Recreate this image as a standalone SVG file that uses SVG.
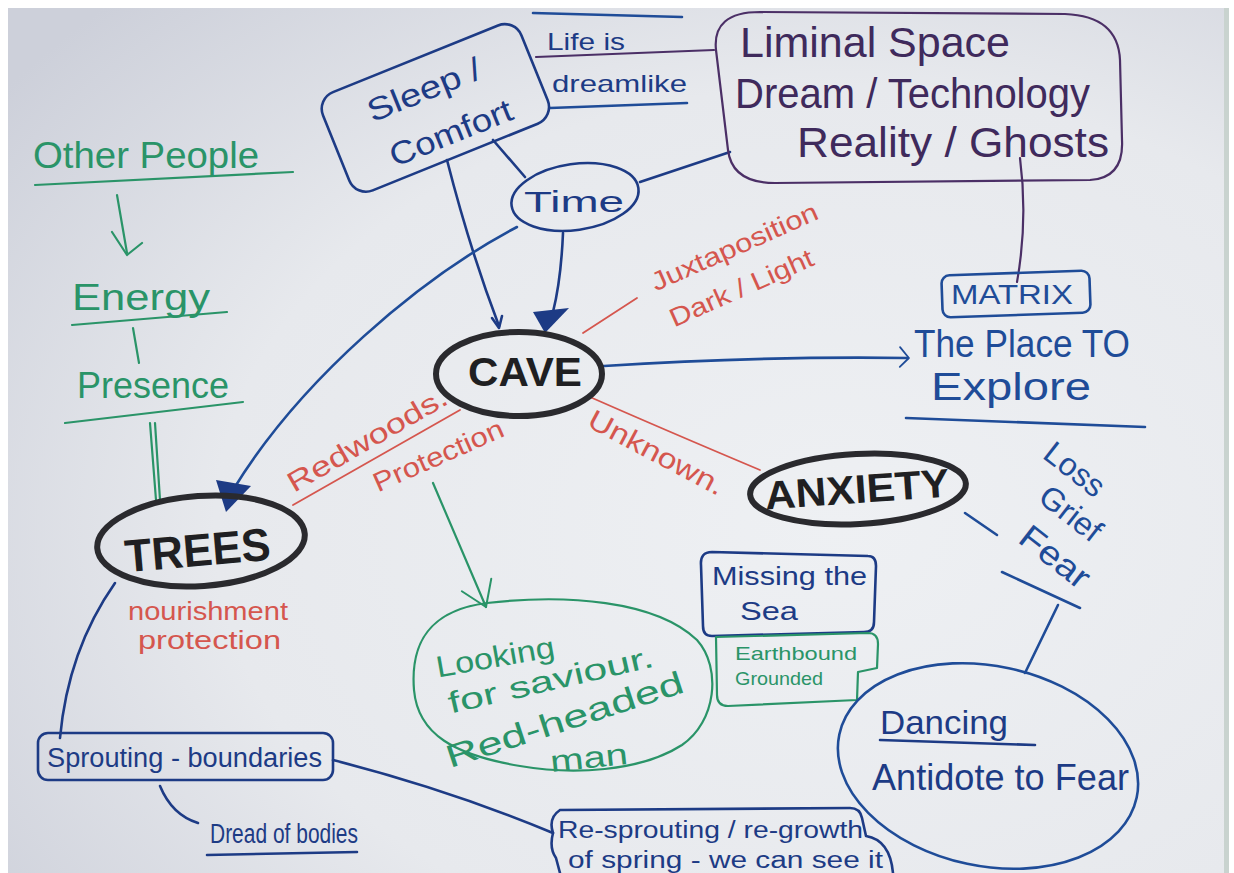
<svg xmlns="http://www.w3.org/2000/svg" width="1234" height="873" viewBox="0 0 1234 873">
  <defs>
    <radialGradient id="paper" cx="0.68" cy="0.6" r="0.85">
      <stop offset="0" stop-color="#eef0f3"/>
      <stop offset="0.6" stop-color="#e7e9ed"/>
      <stop offset="1" stop-color="#cdd0da"/>
    </radialGradient>
    <marker id="chev-blue" viewBox="0 0 20 20" refX="18" refY="10" markerWidth="9" markerHeight="9" markerUnits="userSpaceOnUse" orient="auto" overflow="visible">
      <path d="M0,-14 L20,10 L0,30" fill="none" stroke="#1f4c98" stroke-width="4" stroke-linecap="round" stroke-linejoin="round"/>
    </marker>
    <marker id="chev-green" viewBox="0 0 20 20" refX="20" refY="10" markerWidth="20" markerHeight="20" markerUnits="userSpaceOnUse" orient="auto" overflow="visible">
      <path d="M-4,-6 L20,10 L-4,26" fill="none" stroke="#2a9468" stroke-width="2" stroke-linecap="round" stroke-linejoin="round"/>
    </marker>
    <style>
      .ink { fill: none; stroke-linecap: round; stroke-linejoin: round; }
      .blue { stroke: #1f4c98; stroke-width: 2.6; }
      .navy { stroke: #1d3b85; stroke-width: 2.6; }
      .purple { stroke: #4b2f66; stroke-width: 2.2; }
      .red { stroke: #d5564e; stroke-width: 1.8; }
      .green { stroke: #2a9468; stroke-width: 2.2; }
      .marker { stroke: #2a2a2e; stroke-width: 6; }
      text { font-family: "Liberation Sans", "DejaVu Sans", sans-serif; }
      .t-blue { fill: #1f4c98; }
      .t-navy { fill: #1d3b85; }
      .t-purple { fill: #3f2a5c; }
      .t-red { fill: #d5564e; }
      .t-green { fill: #2a9468; }
      .t-black { fill: #1f1f22; font-weight: bold; }
    </style>
  </defs>

  <!-- sheet of paper on a white surround -->
  <rect x="0" y="0" width="1234" height="873" fill="#ffffff"/>
  <rect x="8" y="8" width="1218" height="865" fill="url(#paper)"/>
  <rect x="1224" y="8" width="5" height="865" fill="#c9d3cf"/>

  <!-- connectors -->
  <g id="connectors">
    <!-- Sleep / Comfort down to CAVE -->
    <path class="ink navy" d="M447,160 Q470,250 499,326"/>
    <path class="ink navy" d="M492,318 L499,328 L502,316"/>
    <!-- Sleep / Comfort to Time -->
    <path class="ink navy" d="M493,140 L525,177"/>
    <!-- Time down to CAVE -->
    <path class="ink navy" d="M563,233 Q561,280 553,312"/>
    <polygon points="533,312 569,308 545,333" fill="#1d3b85"/>
    <!-- Time to Liminal Space -->
    <path class="ink navy" d="M640,182 L730,152"/>
    <!-- Time to TREES -->
    <path class="ink blue" d="M517,227 C420,278 300,380 233,490"/>
    <polygon points="216,480 251,486 226,512" fill="#1d3b85"/>
    <!-- Sleep / Comfort to Liminal Space, with the dreamlike rules -->
    <path class="ink purple" d="M536,57 L714,50"/>
    <path class="ink blue" d="M533,13 L682,17"/>
    <path class="ink blue" d="M550,108 L687,103"/>
    <!-- Ghosts down to MATRIX -->
    <path class="ink purple" d="M1020,158 Q1028,220 1017,282"/>
    <!-- CAVE to The Place TO Explore -->
    <path class="ink blue" d="M604,366 Q760,356 908,358" marker-end="url(#chev-blue)"/>
    <!-- CAVE to Juxtaposition -->
    <path class="ink red" d="M583,333 L637,298"/>
    <!-- CAVE to TREES (Redwoods) -->
    <path class="ink red" d="M460,410 L293,505"/>
    <!-- CAVE to ANXIETY (Unknown) -->
    <path class="ink red" d="M590,397 Q665,430 760,470"/>
    <!-- Protection to Looking for saviour -->
    <path class="ink green" d="M433,483 L486,607" marker-end="url(#chev-green)"/>
    <!-- Other People, Energy, Presence chain -->
    <path class="ink green" d="M117,195 L127,253"/>
    <path class="ink green" d="M112,232 L127,255 L142,243"/>
    <path class="ink green" d="M133,328 L139,363" stroke-width="3"/>
    <path class="ink green" d="M150,423 L156,500"/>
    <path class="ink green" d="M155,423 L160,500"/>
    <!-- TREES to Sprouting -->
    <path class="ink navy" d="M115,583 Q68,650 60,738"/>
    <!-- Sprouting to Dread of bodies -->
    <path class="ink navy" d="M160,786 Q172,815 198,823"/>
    <!-- Sprouting to Re-sprouting -->
    <path class="ink navy" d="M333,760 Q450,790 553,833"/>
    <!-- ANXIETY to Fear, Fear to Dancing -->
    <path class="ink blue" d="M965,513 L997,535"/>
    <path class="ink blue" d="M1002,572 L1080,608"/>
    <path class="ink blue" d="M1058,605 L1025,673"/>
  </g>

  <!-- Sleep / Comfort -->
  <g id="sleep">
    <rect class="ink navy" x="-107" y="-52" width="214" height="106" rx="18" transform="translate(435,107) rotate(-22)"/>
    <text class="t-navy" font-size="32" transform="translate(428,100) rotate(-22)" text-anchor="middle" textLength="120" lengthAdjust="spacingAndGlyphs">Sleep /</text>
    <text class="t-navy" font-size="32" transform="translate(455,143) rotate(-22)" text-anchor="middle" textLength="130" lengthAdjust="spacingAndGlyphs">Comfort</text>
  </g>

  <!-- Life is dreamlike -->
  <g id="dreamlike">
    <text class="t-navy" x="547" y="50" font-size="24" textLength="78" lengthAdjust="spacingAndGlyphs">Life is</text>
    <text class="t-navy" x="552" y="92" font-size="24" textLength="135" lengthAdjust="spacingAndGlyphs">dreamlike</text>
  </g>

  <!-- Liminal Space -->
  <g id="liminal">
    <path class="ink purple" d="M760,12 L1065,14 Q1118,16 1120,60 L1122,140 Q1124,178 1090,180 L775,183 Q732,183 728,150 L716,50 Q712,12 760,12 Z"/>
    <text class="t-purple" x="740" y="57" font-size="42" textLength="270" lengthAdjust="spacingAndGlyphs">Liminal Space</text>
    <text class="t-purple" x="735" y="108" font-size="42" textLength="355" lengthAdjust="spacingAndGlyphs">Dream / Technology</text>
    <text class="t-purple" x="797" y="157" font-size="42" textLength="312" lengthAdjust="spacingAndGlyphs">Reality / Ghosts</text>
  </g>

  <!-- Time -->
  <g id="time">
    <ellipse class="ink navy" cx="575" cy="197" rx="64" ry="33" transform="rotate(-8,575,197)"/>
    <text class="t-navy" x="524" y="212" font-size="30" textLength="100" lengthAdjust="spacingAndGlyphs">Time</text>
  </g>

  <!-- Other People / Energy / Presence -->
  <g id="people">
    <text class="t-green" x="33" y="168" font-size="36" textLength="226" lengthAdjust="spacingAndGlyphs">Other People</text>
    <path class="ink green" d="M35,185 L293,172"/>
  </g>
  <g id="energy">
    <text class="t-green" x="72" y="310" font-size="36" textLength="138" lengthAdjust="spacingAndGlyphs">Energy</text>
    <path class="ink green" d="M72,325 L227,312"/>
  </g>
  <g id="presence">
    <text class="t-green" x="77" y="398" font-size="36" textLength="152" lengthAdjust="spacingAndGlyphs">Presence</text>
    <path class="ink green" d="M65,423 L243,402"/>
  </g>

  <!-- CAVE -->
  <g id="cave">
    <ellipse class="ink marker" cx="519" cy="374" rx="83" ry="42"/>
    <text class="t-black" x="468" y="386" font-size="40" textLength="114" lengthAdjust="spacingAndGlyphs">CAVE</text>
  </g>

  <!-- Juxtaposition Dark / Light -->
  <g id="juxtaposition">
    <text class="t-red" font-size="26" transform="translate(738,255) rotate(-24)" text-anchor="middle" textLength="180" lengthAdjust="spacingAndGlyphs">Juxtaposition</text>
    <text class="t-red" font-size="26" transform="translate(745,296) rotate(-24)" text-anchor="middle" textLength="155" lengthAdjust="spacingAndGlyphs">Dark / Light</text>
  </g>

  <!-- MATRIX / The Place TO Explore -->
  <g id="matrix">
    <rect class="ink blue" x="942" y="273" width="148" height="42" rx="8" transform="rotate(-2,1016,294)"/>
    <text class="t-blue" x="951" y="304" font-size="27" textLength="122" lengthAdjust="spacingAndGlyphs">MATRIX</text>
  </g>
  <g id="explore">
    <text class="t-blue" x="914" y="357" font-size="38" textLength="216" lengthAdjust="spacingAndGlyphs">The Place TO</text>
    <text class="t-blue" x="931" y="400" font-size="38" textLength="160" lengthAdjust="spacingAndGlyphs">Explore</text>
    <path class="ink blue" d="M906,418 L1145,427"/>
  </g>

  <!-- Red labels around CAVE -->
  <g id="redwoods">
    <text class="t-red" font-size="28" transform="translate(372,448) rotate(-30)" text-anchor="middle" textLength="180" lengthAdjust="spacingAndGlyphs">Redwoods.</text>
  </g>
  <g id="protection">
    <text class="t-red" font-size="27" transform="translate(442,464) rotate(-24)" text-anchor="middle" textLength="140" lengthAdjust="spacingAndGlyphs">Protection</text>
  </g>
  <g id="unknown">
    <text class="t-red" font-size="28" transform="translate(652,461) rotate(28)" text-anchor="middle" textLength="150" lengthAdjust="spacingAndGlyphs">Unknown.</text>
  </g>

  <!-- TREES -->
  <g id="trees">
    <ellipse class="ink marker" cx="201" cy="541" rx="104" ry="45" transform="rotate(-4,201,541)"/>
    <text class="t-black" font-size="46" transform="translate(199,566) rotate(-5)" text-anchor="middle" textLength="146" lengthAdjust="spacingAndGlyphs">TREES</text>
    <text class="t-red" x="128" y="620" font-size="26" textLength="160" lengthAdjust="spacingAndGlyphs">nourishment</text>
    <text class="t-red" x="138" y="649" font-size="26" textLength="143" lengthAdjust="spacingAndGlyphs">protection</text>
  </g>

  <!-- ANXIETY -->
  <g id="anxiety">
    <ellipse class="ink marker" cx="858" cy="489" rx="108" ry="35" transform="rotate(-3,858,489)"/>
    <text class="t-black" font-size="40" transform="translate(858,503) rotate(-4)" text-anchor="middle" textLength="185" lengthAdjust="spacingAndGlyphs">ANXIETY</text>
  </g>

  <!-- Loss Grief Fear -->
  <g id="fear">
    <text class="t-blue" font-size="32" transform="translate(1068,478) rotate(38)" text-anchor="middle" textLength="68" lengthAdjust="spacingAndGlyphs">Loss</text>
    <text class="t-blue" font-size="32" transform="translate(1064,522) rotate(38)" text-anchor="middle" textLength="70" lengthAdjust="spacingAndGlyphs">Grief</text>
    <text class="t-blue" font-size="34" transform="translate(1048,566) rotate(38)" text-anchor="middle" textLength="80" lengthAdjust="spacingAndGlyphs">Fear</text>
  </g>

  <!-- Looking for saviour -->
  <g id="saviour">
    <path class="ink green" d="M487,603 C565,594 655,600 697,640 C722,668 716,722 682,745 C640,772 572,775 520,766 C455,755 418,735 414,690 C410,640 432,610 487,603 Z"/>
    <text class="t-green" font-size="30" transform="translate(497,667) rotate(-10)" text-anchor="middle" textLength="120" lengthAdjust="spacingAndGlyphs">Looking</text>
    <text class="t-green" font-size="30" transform="translate(553,690) rotate(-13)" text-anchor="middle" textLength="210" lengthAdjust="spacingAndGlyphs">for saviour.</text>
    <text class="t-green" font-size="32" transform="translate(568,730) rotate(-18)" text-anchor="middle" textLength="248" lengthAdjust="spacingAndGlyphs">Red-headed</text>
    <text class="t-green" font-size="30" transform="translate(590,768) rotate(-6)" text-anchor="middle" textLength="78" lengthAdjust="spacingAndGlyphs">man</text>
  </g>

  <!-- Missing the Sea / Earthbound Grounded -->
  <g id="sea">
    <path class="ink navy" d="M712,552 L868,556 Q876,556 876,566 L874,622 Q874,632 864,632 L712,636 Q703,636 703,626 L701,565 Q700,552 712,552 Z"/>
    <text class="t-navy" x="712" y="585" font-size="25" textLength="155" lengthAdjust="spacingAndGlyphs">Missing the</text>
    <text class="t-navy" x="740" y="620" font-size="25" textLength="58" lengthAdjust="spacingAndGlyphs">Sea</text>
  </g>
  <g id="earthbound">
    <path class="ink green" d="M716,637 L868,633 Q878,633 878,644 L877,668 L858,672 L857,700 L728,706 Q717,706 717,695 Z"/>
    <text class="t-green" x="735" y="660" font-size="19" textLength="122" lengthAdjust="spacingAndGlyphs">Earthbound</text>
    <text class="t-green" x="735" y="685" font-size="19" textLength="88" lengthAdjust="spacingAndGlyphs">Grounded</text>
  </g>

  <!-- Dancing -->
  <g id="dancing">
    <ellipse class="ink blue" cx="988" cy="766" rx="152" ry="100" transform="rotate(12,988,766)"/>
    <text class="t-navy" x="880" y="734" font-size="34" textLength="128" lengthAdjust="spacingAndGlyphs">Dancing</text>
    <path class="ink navy" d="M880,740 L1035,745"/>
    <text class="t-navy" x="872" y="790" font-size="36" textLength="257" lengthAdjust="spacingAndGlyphs">Antidote to Fear</text>
  </g>

  <!-- Sprouting - boundaries -->
  <g id="sprouting">
    <rect class="ink navy" x="38" y="733" width="295" height="47" rx="10"/>
    <text class="t-navy" x="47" y="767" font-size="27" textLength="275" lengthAdjust="spacingAndGlyphs">Sprouting - boundaries</text>
  </g>

  <!-- Dread of bodies -->
  <g id="bodies">
    <text class="t-navy" x="210" y="843" font-size="27" textLength="148" lengthAdjust="spacingAndGlyphs">Dread of bodies</text>
    <path class="ink navy" d="M207,855 L357,852"/>
  </g>

  <!-- Re-sprouting / re-growth -->
  <g id="regrowth">
    <path class="ink navy" d="M560,810 L850,808 Q860,808 862,818 L866,836 Q890,840 893,873 M560,810 Q548,818 553,833 Q549,848 556,858 L560,873"/>
    <text class="t-navy" x="558" y="838" font-size="23" textLength="305" lengthAdjust="spacingAndGlyphs">Re-sprouting / re-growth</text>
    <text class="t-navy" x="568" y="868" font-size="23" textLength="315" lengthAdjust="spacingAndGlyphs">of spring - we can see it</text>
  </g>
</svg>
